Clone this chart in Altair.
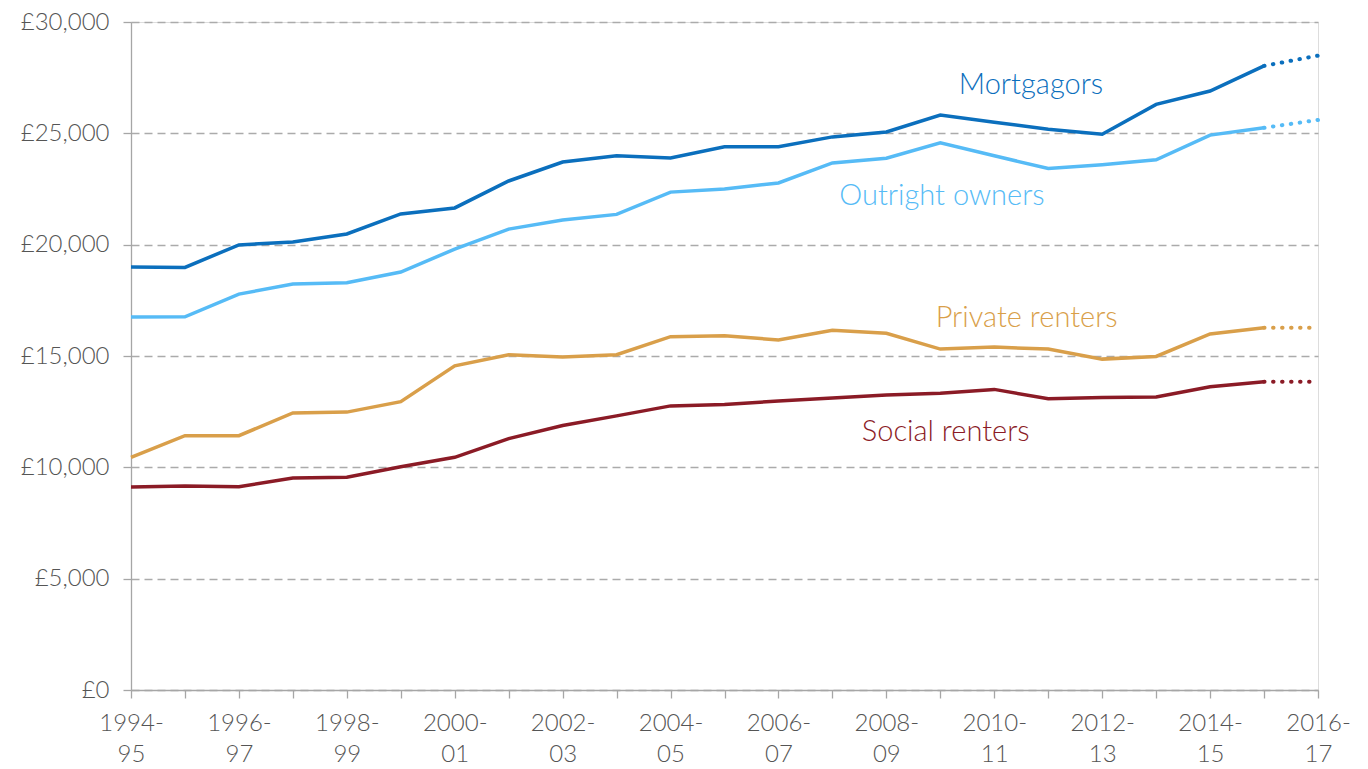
import json
import altair as alt
import pandas as pd

periods = ["1994-95", "1995-96", "1996-97", "1997-98", "1998-99", "1999-00",
           "2000-01", "2001-02", "2002-03", "2003-04", "2004-05", "2005-06",
           "2006-07", "2007-08", "2008-09", "2009-10", "2010-11", "2011-12",
           "2012-13", "2013-14", "2014-15", "2015-16", "2016-17"]

mortgagors = [19000, 18980, 19990, 20120, 20480, 21380, 21650, 22860, 23710, 23990,
              23890, 24400, 24400, 24840, 25060, 25820, 25500, 25180, 24960, 26300,
              26900, 28030, 28490]
outright = [16750, 16760, 17780, 18230, 18290, 18770, 19800, 20700, 21110, 21360,
            22360, 22500, 22770, 23670, 23880, 24570, 23990, 23420, 23590, 23810,
            24920, 25250, 25600]
private = [10450, 11420, 11420, 12440, 12480, 12950, 14560, 15060, 14960, 15060,
           15870, 15910, 15720, 16160, 16020, 15310, 15400, 15310, 14860, 14980,
           15990, 16270, 16270]
social = [9120, 9160, 9130, 9520, 9560, 10030, 10450, 11290, 11880, 12310,
          12760, 12820, 12980, 13110, 13250, 13330, 13500, 13080, 13140, 13160,
          13620, 13840, 13840]

series_names = ["Mortgagors", "Outright owners", "Private renters", "Social renters"]
series_values = [mortgagors, outright, private, social]
colors = ["#0b6fbd", "#56bbf6", "#d99f4a", "#8b1b26"]

label_x = [16.68, 15.03, 16.6, 15.1]
label_y = [27150, 22200, 16700, 11600]

n_solid = 22  # points up to 2015-16 are solid; last segment dotted

rows_solid, rows_dot = [], []
for name, vals in zip(series_names, series_values):
    for i, v in enumerate(vals):
        rec = {"series": name, "idx": i, "period": periods[i], "value": v}
        if i < n_solid:
            rows_solid.append(rec)
        if i >= n_solid - 1:
            rows_dot.append(rec)
df_solid = pd.DataFrame(rows_solid)
df_dot = pd.DataFrame(rows_dot)
df_lab = pd.DataFrame({"series": series_names, "x": label_x, "y": label_y})

tick_labels = [[p.split("-")[0] + "-", p.split("-")[1]] if i % 2 == 0 else ""
               for i, p in enumerate(periods)]
label_expr = json.dumps(tick_labels) + "[datum.value]"

FONT = "Lato"
AXIS_GRAY = "#a6a6a6"
GRID_GRAY = "#ababab"
TEXT_GRAY = "#555555"

color_scale = alt.Scale(domain=series_names, range=colors)

x_enc = alt.X("idx:Q",
              scale=alt.Scale(domain=[0, len(periods) - 1], nice=False, zero=False),
              axis=alt.Axis(values=list(range(len(periods))), labelExpr=label_expr,
                            title=None, grid=False, domainColor=AXIS_GRAY, domainWidth=1.3,
                            tickColor=AXIS_GRAY, tickWidth=1.3, tickSize=8,
                            labelFont=FONT, labelFontSize=24, labelFontWeight=300,
                            labelColor=TEXT_GRAY,
                            labelLineHeight=31, labelBaseline="top", labelPadding=13,
                            labelAngle=0, labelOverlap=False, labelFlush=False))
y_enc = alt.Y("value:Q",
              scale=alt.Scale(domain=[0, 30000], nice=False),
              axis=alt.Axis(values=[0, 5000, 10000, 15000, 20000, 25000, 30000],
                            labelExpr="'£' + format(datum.value, ',')",
                            title=None, grid=True, gridColor=GRID_GRAY, gridWidth=1.3,
                            gridDash=[8, 5], domainColor=AXIS_GRAY, domainWidth=1.3,
                            tickColor=AXIS_GRAY, tickWidth=1.3, tickSize=8,
                            labelFont=FONT, labelFontSize=24, labelFontWeight=300,
                            labelColor=TEXT_GRAY, labelPadding=14))

solid = alt.Chart(df_solid).mark_line(strokeWidth=3.5).encode(
    x=x_enc, y=y_enc,
    color=alt.Color("series:N", scale=color_scale, legend=None),
    detail="series:N",
)
dotted = alt.Chart(df_dot).mark_line(strokeWidth=4, strokeDash=[0.5, 8.5], strokeCap="round").encode(
    x="idx:Q", y="value:Q",
    color=alt.Color("series:N", scale=color_scale, legend=None),
    detail="series:N",
)
labels = alt.Chart(df_lab).mark_text(font=FONT, fontSize=29, fontWeight=300,
                                     align="center", baseline="middle").encode(
    x="x:Q", y="y:Q",
    text="series:N",
    color=alt.Color("series:N", scale=color_scale, legend=None),
)

chart = alt.layer(solid, dotted, labels).properties(
    width=1187, height=668,
    autosize=alt.AutoSizeParams(type="none"),
    padding={"left": 123, "top": 14, "right": 40, "bottom": 78},
).configure_view(stroke=None).configure(background="white")

chart.save("out.html", embed_options={"renderer": "svg", "actions": False})
